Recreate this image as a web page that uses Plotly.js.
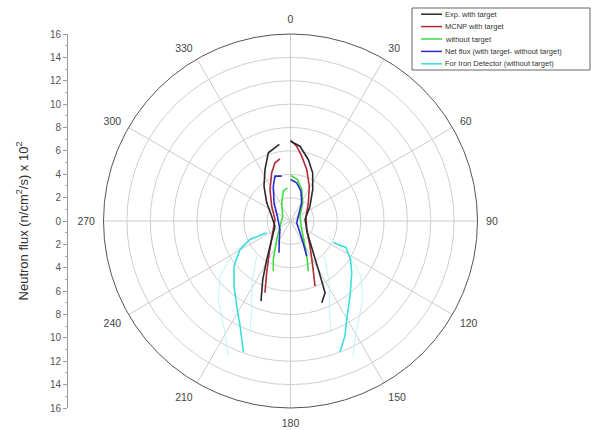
<!DOCTYPE html>
<html>
<head>
<meta charset="utf-8">
<script src="https://cdn.plot.ly/plotly-3.0.1.min.js"></script>
<style>html,body{margin:0;padding:0;background:#fff;}#chart{width:594px;height:430px;}</style>
</head>
<body>
<div id="chart"></div>
<script>
// Angular ticks (degrees) and radial ticks (flux x 10^2)
const angleTicks = [0,30,60,90,120,150,180,210,240,270,300,330];
const radialTicks = [0,2,4,6,8,10,12,14,16];

// Exp. with target (right branch, then left branch; null breaks the line)
const expTheta = [0,7.2,16.1,24.7,35.2,52.8,84.1,125.1,144.4,150.9,154.3,159.1, null,
                  351.7,342.0,333.7,322.7,307.4,284.3,251.5,225.5,211.7,205.4,200.2];
const expR     = [6.83,6.45,5.48,4.54,3.30,2.09,1.25,1.76,3.35,5.07,6.82,7.49, null,
                  6.62,6.14,4.92,3.74,2.56,1.66,1.40,2.26,3.87,5.54,7.31];

// MCNP with target
const mcnpTheta = [0.1,4.7,9.8,17.5,28.4,44.4,72.8,117.7,142.3,153.8,159.4, null,
                   350.4,345.1,338.7,326.9,308.2,275.5,236.5,213.7,204.7,199.6];
const mcnpR     = [6.91,6.42,5.63,4.62,3.38,2.18,1.39,1.57,2.73,4.31,5.96, null,
                   5.40,5.15,4.43,3.21,2.05,1.33,1.83,3.27,4.88,6.52];

// without target
const woTheta = [0.6,9.6,19.6,33.8,63.2,127.2,150.1,156.4,160.5, null,
                 354.5,346.4,334.2,301.6,243.7,216.7,204.1,198.9];
const woR     = [3.89,3.60,2.86,1.87,0.91,1.20,2.49,3.59,4.56, null,
                 2.85,2.62,1.73,0.78,1.00,1.97,3.61,4.54];

// Net flux (with target - without target)
const netTheta = [0.3,9.2,19.4,31.6,58.4,106.2,141.2,151.8,155.3, null,
                  348.9,340.9,333.7,317.8,290.0,231.0,211.2,199.9];
const netR     = [3.55,3.31,2.70,1.83,0.78,0.55,1.30,2.45,3.32, null,
                  3.91,4.06,3.32,2.10,1.20,1.16,1.85,2.89];

// For Iron Detector (without target)
const ironTheta = [117.0,115.5,122.7,130.2,141.6,150.3,154.7,159.3, null,
                   243.6,245.4,240.6,231.3,220.9,212.3,205.6,199.8];
const ironR     = [4.11,5.26,6.10,6.86,8.20,9.70,10.90,11.98, null,
                   2.27,3.81,4.96,6.19,7.38,8.62,9.98,11.91];

// Faint uncertainty envelope of the iron detector curve
const ironOuterTheta = [112.2,119.1,128.1,137.4,149.6,155.3, null,
                        247.8,240.9,231.9,222.6,210.4,204.7];
const ironOuterR     = [3.44,5.60,7.66,9.13,11.09,12.73, null,
                        3.44,5.60,7.66,9.13,11.09,12.73];
const ironInnerTheta = [136.2,147.9,156.3,160.1, null,
                        223.8,212.1,203.7,199.9];
const ironInnerR     = [4.18,6.24,8.27,10.17, null,
                        4.18,6.24,8.27,10.17];

// Legend (in the reference's order)
const seriesNames = ["Exp. with target","MCNP with target","without target",
                     "Net flux (with target- without target)","For Iron Detector (without target)"];
const seriesColors = ["#2b2b2b","#b22a3a","#3ddc3d","#2a2ad0","#3cdede"];

const leftTickVals = [];
const leftTickText = [];
radialTicks.slice().reverse().forEach(v => { leftTickVals.push(-v); leftTickText.push(String(v)); });
radialTicks.slice(1).forEach(v => { leftTickVals.push(v); leftTickText.push(String(v)); });

function line(name, theta, r, color, width) {
  return {type:'scatterpolar', mode:'lines', name:name, theta:theta, r:r,
          connectgaps:false, showlegend:false,
          line:{color:color, width:width||1.6}, hoverinfo:'skip'};
}

const traces = [
  line('Iron envelope', ironOuterTheta, ironOuterR, '#c4f2f2', 1),
  line('Iron envelope', ironInnerTheta, ironInnerR, '#c4f2f2', 1),
  line(seriesNames[4], ironTheta, ironR, seriesColors[4]),
  line(seriesNames[1], mcnpTheta, mcnpR, seriesColors[1]),
  line(seriesNames[0], expTheta, expR, seriesColors[0]),
  line(seriesNames[2], woTheta, woR, seriesColors[2]),
  line(seriesNames[3], netTheta, netR, seriesColors[3]),
  // invisible trace carrying the left cartesian axis
  {type:'scatter', x:[0], y:[0], xaxis:'x', yaxis:'y', mode:'markers',
   marker:{opacity:0}, showlegend:false, hoverinfo:'skip'}
];

// Compact legend box built from shapes + annotations
const W = 594, H = 430;
const legBox = {x0:412, x1:590, y0:8, y1:70};
const rowH = (legBox.y1 - legBox.y0) / seriesNames.length;
const shapes = [{type:'rect', xref:'paper', yref:'paper',
  x0:legBox.x0/W, x1:legBox.x1/W, y0:1-legBox.y1/H, y1:1-legBox.y0/H,
  line:{color:'#666', width:1}, fillcolor:'#fff', layer:'above'}];
const annotations = [];
seriesNames.forEach((nm, i) => {
  const yc = 1 - (legBox.y0 + rowH*(i+0.5))/H;
  shapes.push({type:'line', xref:'paper', yref:'paper', x0:421/W, x1:442/W, y0:yc, y1:yc,
               line:{color:seriesColors[i], width:1.5}, layer:'above'});
  annotations.push({xref:'paper', yref:'paper', x:443/W, y:yc, xanchor:'left', yanchor:'middle',
                    text:nm, showarrow:false, font:{size:7.5, color:'#333'}});
});

const yDom = [22/430, 396/430];
const layout = {
  width:W, height:H,
  margin:{l:0,r:0,t:0,b:0},
  paper_bgcolor:'#fff', plot_bgcolor:'rgba(0,0,0,0)',
  font:{family:'Liberation Sans, Arial, sans-serif', color:'#444', size:10},
  showlegend:false,
  shapes:shapes,
  annotations:annotations,
  polar:{
    domain:{x:[103.5/W, 477.5/W], y:yDom},
    bgcolor:'rgba(0,0,0,0)',
    angularaxis:{rotation:90, direction:'clockwise', tickvals:angleTicks,
                 ticktext:angleTicks.map(String), showline:true, linecolor:'#555',
                 linewidth:1, gridcolor:'#cbcbcb', gridwidth:1, ticks:'outside',
                 ticklen:6, tickcolor:'rgba(0,0,0,0)', tickfont:{size:10.5, color:'#444'}},
    radialaxis:{range:[0,16], tickvals:radialTicks, showticklabels:false,
                showline:false, ticks:'', gridcolor:'#cfcfcf', gridwidth:1}
  },
  xaxis:{domain:[68/W, 69/W], range:[0,1], visible:false, fixedrange:true},
  yaxis:{domain:yDom, range:[-16,16], anchor:'x', side:'left',
         tickvals:leftTickVals, ticktext:leftTickText, showgrid:false, zeroline:false,
         showline:true, linecolor:'#999', linewidth:1, ticks:'outside', ticklen:4,
         tickcolor:'#999', tickfont:{size:10, color:'#555'},
         minor:{dtick:1, ticks:'outside', ticklen:2, tickcolor:'#aaa'},
         title:{text:'Neutron flux (n/cm<sup>2</sup>/s) x 10<sup>2</sup>',
                font:{size:13, color:'#333'}, standoff:18}}
};

Plotly.newPlot('chart', traces, layout, {staticPlot:true, displayModeBar:false});
</script>
</body>
</html>
